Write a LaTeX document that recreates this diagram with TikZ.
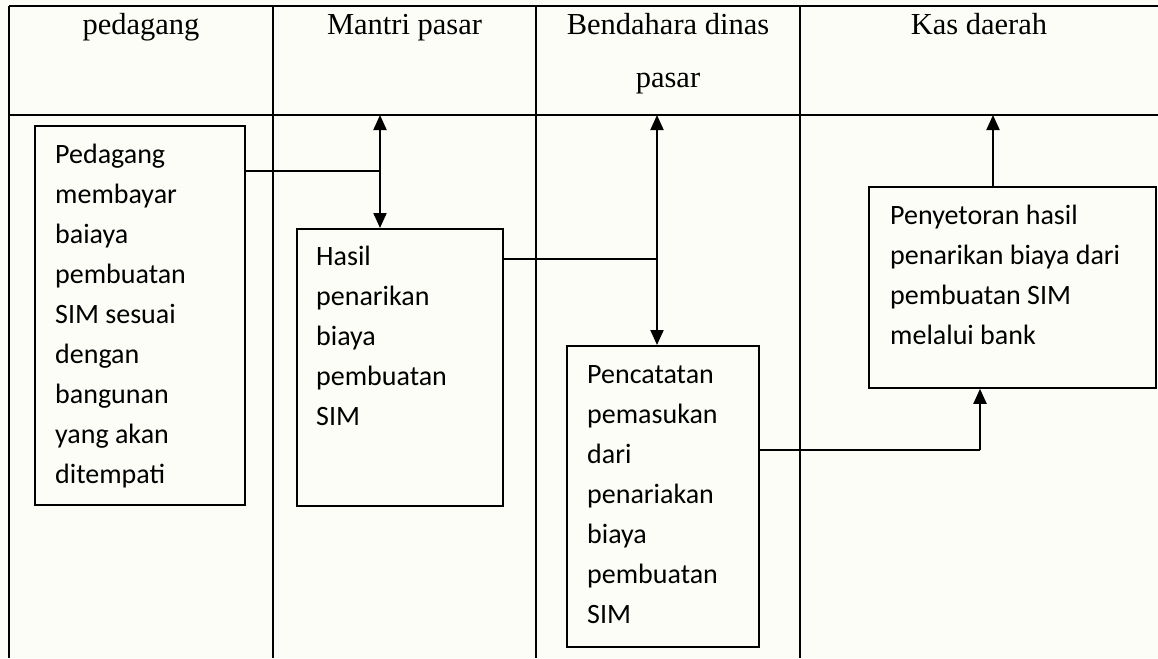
\documentclass[tikz,border=0pt]{standalone}
\usepackage{fontspec}
\setmainfont{Liberation Serif}
\newfontfamily\boxfont{Carlito}
\usetikzlibrary{arrows.meta}
\definecolor{paper}{RGB}{252,253,246}

\begin{document}
\begin{tikzpicture}[x=1pt,y=-1pt,
  gridline/.style={line width=2.2pt, black},
  headtext/.style={font=\fontsize{30.5}{53}\selectfont, anchor=base, align=center, inner sep=0pt},
  procbox/.style={draw, line width=1.8pt, anchor=north west, inner sep=0pt},
  % multi-line nodes sit on the baseline of their last line
  boxtext/.style={font=\boxfont\fontsize{28}{40}\selectfont, anchor=base west, align=left, inner sep=0pt},
  link/.style={line width=1.3pt},
  arr/.style={line width=2pt, -{Triangle[width=13pt,length=15pt]}}]

  % page background and frame of the swimlane table
  \fill[paper] (0,0) rectangle (1158,658);
  \useasboundingbox (0,0) rectangle (1158,658);
  \draw[gridline] (9,6) -- (1158,6);
  \draw[gridline] (9,115) -- (1158,115);
  \foreach \cx in {9,273,536,800} \draw[gridline] (\cx,6) -- (\cx,658);

  % lane headings
  \node[headtext] (h1) at (141,35) {pedagang};
  \node[headtext] (h2) at (404.5,35) {Mantri pasar};
  \node[headtext] (h3) at (668,88) {Bendahara dinas\\pasar};
  \node[headtext] (h4) at (979,35) {Kas daerah};

  % process boxes
  \node[procbox, minimum width=210pt, minimum height=379pt] (b1) at (34,125) {};
  \node[procbox, minimum width=206pt, minimum height=277pt] (b2) at (296,228) {};
  \node[procbox, minimum width=192pt, minimum height=301pt] (b3) at (566,345) {};
  \node[procbox, minimum width=287pt, minimum height=201pt] (b4) at (868,186) {};

  % box contents
  \node[boxtext] (t1) at (55,483) {Pedagang\\membayar\\baiaya\\pembuatan\\SIM sesuai\\dengan\\bangunan\\yang akan\\ditempati};
  \node[boxtext] (t2) at (316,425) {Hasil\\penarikan\\biaya\\pembuatan\\SIM};
  \node[boxtext] (t3) at (587,623) {Pencatatan\\pemasukan\\dari\\penariakan\\biaya\\pembuatan\\SIM};
  \node[boxtext] (t4) at (890,344) {Penyetoran hasil\\penarikan biaya dari\\pembuatan SIM\\melalui bank};

  % junction points and lane-top targets
  \coordinate (j1) at (380,171);
  \coordinate (top1) at (380,115);
  \coordinate (j2) at (657,259);
  \coordinate (top2) at (657,115);
  \coordinate (j3) at (980,450);
  \coordinate (top4) at (993,115);

  % pedagang -> mantri pasar
  \draw[link] (b1.east |- j1) -- (j1);
  \draw[arr] (j1) -- (top1);
  \draw[arr] (j1) -- (j1 |- b2.north);

  % mantri pasar -> bendahara
  \draw[link] (b2.east |- j2) -- (j2);
  \draw[arr] (j2) -- (top2);
  \draw[arr] (j2) -- (j2 |- b3.north);

  % bendahara -> kas daerah
  \draw[link] (b3.east |- j3) -- (j3);
  \draw[arr] (j3) -- (j3 |- b4.south);
  \draw[arr] (top4 |- b4.north) -- (top4);
\end{tikzpicture}
\end{document}
